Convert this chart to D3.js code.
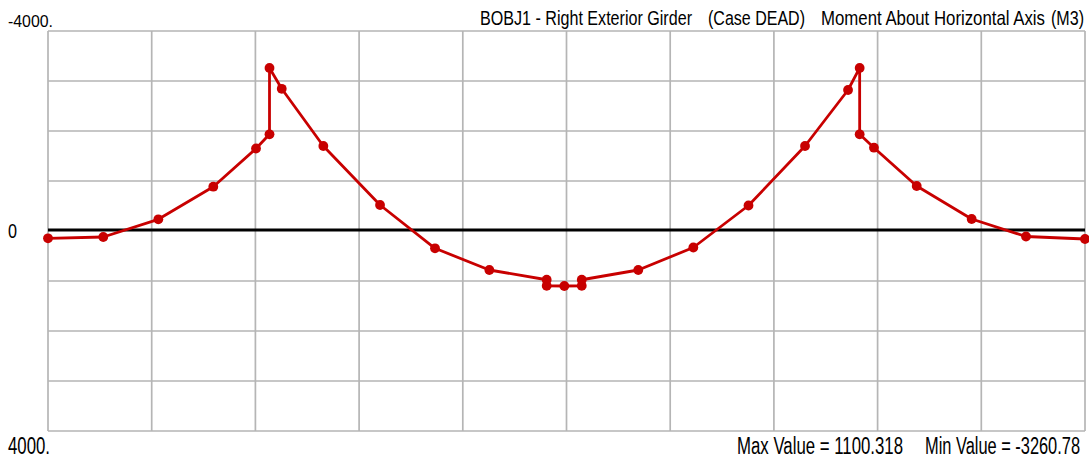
<!DOCTYPE html>
<html>
<head>
<meta charset="utf-8">
<script src="https://cdn.jsdelivr.net/npm/d3@7"></script>
<style>
  html, body { margin: 0; padding: 0; background: #ffffff; }
  svg { display: block; }
  text { font-family: "Liberation Sans", Arial, sans-serif; fill: #000; }
</style>
</head>
<body>
<svg id="chart" width="1089" height="463"></svg>
<script>
// ---- data ----
const stations = [0, 5.33, 10.64, 15.94, 20.06, 21.36, 21.36, 22.54, 26.55, 32.02, 37.32, 42.56,
  48.09, 48.09, 49.79, 51.47, 51.47, 56.92, 62.23, 67.55, 73.0, 77.15, 78.27, 78.27, 79.65,
  83.77, 89.07, 94.31, 100];
const moments = [146, 120, -234, -886, -1650, -1934, -3260.78, -2844, -1700, -520, 346, 780,
  975, 1095, 1100.318, 1095, 975, 780, 330, -510, -1700, -2820, -3260.78, -1934, -1666,
  -900, -240, 110, 160];
const yTickValues = [-4000, -3000, -2000, -1000, 0, 1000, 2000, 3000, 4000];
const yTickLabels = ["-4000.", "0", "4000."];
const yLabelValues = [-4000, 0, 4000];
const xTickValues = [0, 10, 20, 30, 40, 50, 60, 70, 80, 90, 100];
const titleParts = ["BOBJ1 - Right Exterior Girder", "(Case DEAD)", "Moment About Horizontal Axis", "(M3)"];
const footerParts = ["Max Value = 1100.318", "Min Value = -3260.78"];

// ---- layout ----
const svg = d3.select("#chart");
const L = 48, R = 1085, T = 31, B = 431;
const x = d3.scaleLinear().domain([0, 100]).range([L, R]);
const y = d3.scaleLinear().domain([-4000, 4000]).range([T, B]);

svg.append("rect").attr("width", 1089).attr("height", 463).attr("fill", "#fff");

const gridColor = "#b5b5b5";
svg.append("g").selectAll("line").data(yTickValues.filter(v => v !== 0)).join("line")
  .attr("x1", L).attr("x2", R).attr("y1", d => y(d)).attr("y2", d => y(d))
  .attr("stroke", gridColor).attr("stroke-width", 1.7);
svg.append("g").selectAll("line").data(xTickValues).join("line")
  .attr("x1", d => x(d)).attr("x2", d => x(d)).attr("y1", T).attr("y2", B)
  .attr("stroke", gridColor).attr("stroke-width", 1.7);

// zero line
svg.append("line").attr("x1", L).attr("x2", R).attr("y1", y(0) - 1).attr("y2", y(0) - 1)
  .attr("stroke", "#000").attr("stroke-width", 3);

// data line
const pts = stations.map((s, i) => [s, moments[i]]);
const red = "#c80000";
svg.append("path").datum(pts)
  .attr("d", d3.line().x(d => x(d[0])).y(d => y(d[1])))
  .attr("fill", "none").attr("stroke", red).attr("stroke-width", 2.8)
  .attr("stroke-linejoin", "round");
svg.append("g").selectAll("circle").data(pts).join("circle")
  .attr("cx", d => x(d[0])).attr("cy", d => y(d[1])).attr("r", 4.9)
  .attr("fill", red);

// text fitted to a width and a cap height (condensed look of the original)
function fitText(str, tx, ty, width, cap) {
  const t = svg.append("text").attr("x", 0).attr("y", 0).attr("font-size", 20).text(str);
  const w0 = t.node().getComputedTextLength();
  const fs = 20 * width / w0;
  const sy = (cap / 0.716) / fs;
  t.attr("font-size", fs)
   .attr("textLength", width).attr("lengthAdjust", "spacingAndGlyphs")
   .attr("transform", `translate(${tx},${ty}) scale(1,${sy})`);
  return t;
}

// y labels
fitText(yTickLabels[0], 8, y(yLabelValues[0]) - 4.5, 45, 11.5);
fitText(yTickLabels[1], 8, y(yLabelValues[1]) + 6.5, 9, 14.5);
fitText(yTickLabels[2], 8, y(yLabelValues[2]) + 22.5, 42, 16.5);

// title
const titlePos = [[480, 212], [708, 97], [821, 224], [1051, 33]];
titleParts.forEach((s, i) => fitText(s, titlePos[i][0], 25, titlePos[i][1], 14.5));

// footer
const footerPos = [[737, 166], [925, 155]];
footerParts.forEach((s, i) => fitText(s, footerPos[i][0], 454, footerPos[i][1], 16.5));
</script>
</body>
</html>
